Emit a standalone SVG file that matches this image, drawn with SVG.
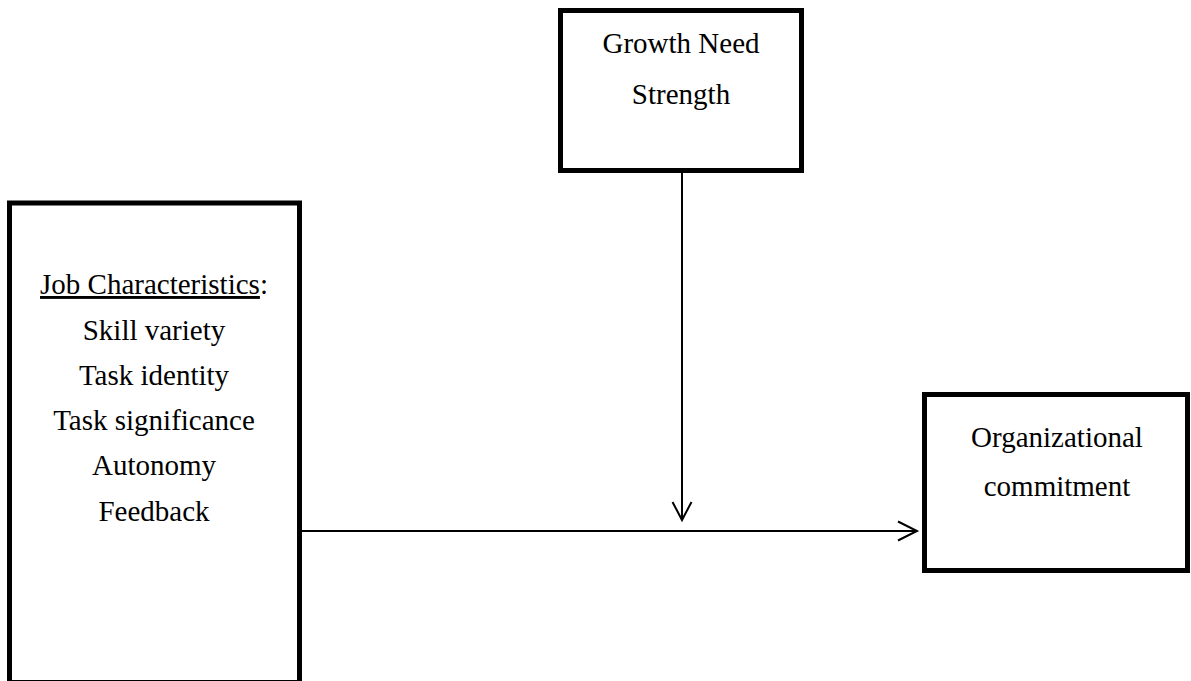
<svg xmlns="http://www.w3.org/2000/svg" width="1191" height="681" viewBox="0 0 1191 681">
<style>
.box{fill:#fff;stroke:#000;stroke-width:5}
.t{font-family:"Liberation Serif","Times New Roman",serif;font-size:29px;fill:#000;text-anchor:middle}
.c{stroke:#000;stroke-width:2;fill:none}
</style>
<rect width="1191" height="681" fill="#fff"/>
<g id="growth">
<rect class="box" x="560.5" y="10.5" width="241" height="160"/>
<text class="t" x="681" y="53">Growth Need</text>
<text class="t" x="681" y="104">Strength</text>
</g>
<g id="job">
<rect class="box" x="9.5" y="203" width="290" height="479.5"/>
<text class="t" x="154" y="294"><tspan text-decoration="underline">Job Characteristics</tspan>:</text>
<text class="t" x="154" y="340">Skill variety</text>
<text class="t" x="154" y="385">Task identity</text>
<text class="t" x="154" y="430">Task significance</text>
<text class="t" x="154" y="475">Autonomy</text>
<text class="t" x="154" y="521">Feedback</text>
</g>
<g id="commit">
<rect class="box" x="924.5" y="394.5" width="263" height="176"/>
<text class="t" x="1057" y="447">Organizational</text>
<text class="t" x="1057" y="496">commitment</text>
</g>
<g id="connectors">
<line class="c" x1="682" y1="173" x2="682" y2="520"/>
<polyline class="c" points="672.5,502 682,520 691.5,502"/>
<line class="c" x1="302" y1="531" x2="917" y2="531"/>
<polyline class="c" points="898,521.5 917,531 898,540.5"/>
</g>
</svg>
